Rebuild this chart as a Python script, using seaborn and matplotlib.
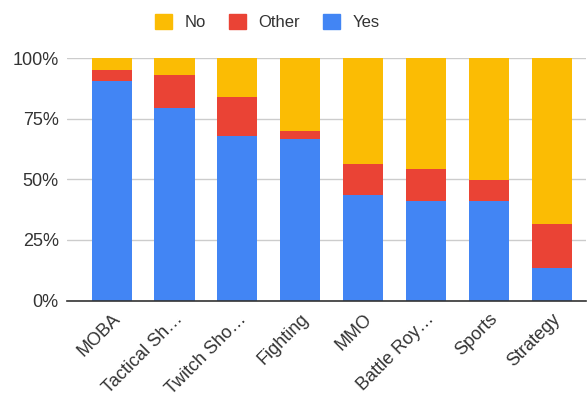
import matplotlib
matplotlib.use("Agg")
import matplotlib.pyplot as plt
import matplotlib.patches as mpatches
from matplotlib.ticker import PercentFormatter
import seaborn as sns
import numpy as np
import pandas as pd

# Genre labels as shown on the chart (Sheets truncates long names)
genres = ["MOBA", "Tactical Sh\u2026", "Twitch Sho\u2026", "Fighting", "MMO",
          "Battle Roy\u2026", "Sports", "Strategy"]
# Share of answers per genre, in percent
yes = [90.5, 79.3, 68.0, 66.6, 43.5, 40.9, 40.9, 13.3]
other = [4.6, 13.8, 15.9, 3.4, 12.7, 13.3, 8.7, 18.4]
no = [4.9, 6.9, 16.1, 30.0, 43.8, 45.8, 50.4, 68.3]

colors = {"No": "#FBBC04", "Other": "#EA4335", "Yes": "#4285F4"}

df = pd.DataFrame({"genre": genres, "Yes": yes, "Other": other, "No": no})
df["yes_other"] = df["Yes"] + df["Other"]
df["total"] = df["yes_other"] + df["No"]

sns.set_style("white")
plt.rcParams["font.family"] = ["Liberation Sans", "DejaVu Sans"]
text_col = "#333333"

fig = plt.figure(figsize=(5.88, 4.03), dpi=100)
ax = fig.add_axes([0.114, 0.254, 0.883, 0.602])

# stacked by overdrawing cumulative totals
bar_kw = dict(width=0.64, saturation=1, linewidth=0, ax=ax, zorder=3)
sns.barplot(data=df, x="genre", y="total", color=colors["No"], **bar_kw)
sns.barplot(data=df, x="genre", y="yes_other", color=colors["Other"], **bar_kw)
sns.barplot(data=df, x="genre", y="Yes", color=colors["Yes"], **bar_kw)

ax.set_xlim(-0.71, 7.55)
ax.set_ylim(0, 100)
ax.set_yticks([0, 25, 50, 75, 100])
ax.yaxis.set_major_formatter(PercentFormatter(decimals=0))
ax.grid(axis="y", color="#cccccc", linewidth=1, zorder=0)
ax.grid(axis="x", visible=False)
for s in ["top", "right", "left"]:
    ax.spines[s].set_visible(False)
ax.spines["bottom"].set_color("#333333")
ax.spines["bottom"].set_linewidth(1.2)
ax.spines["bottom"].set_zorder(4)
ax.tick_params(axis="both", length=0, labelsize=13, colors=text_col)
ax.tick_params(axis="y", pad=6)
ax.tick_params(axis="x", pad=7)
ax.set_xlabel("")
ax.set_ylabel("")
plt.setp(ax.get_xticklabels(), rotation=45, ha="right", rotation_mode="anchor")

handles = [mpatches.Patch(color=colors[k], label=k) for k in ["No", "Other", "Yes"]]
fig.legend(handles=handles, loc="center", bbox_to_anchor=(0.455, 0.945), ncol=3,
           frameon=False, fontsize=12, handlelength=1.0, handleheight=1.0,
           columnspacing=1.4, handletextpad=0.75, labelcolor=text_col)

fig.savefig("out.png", dpi=100)
